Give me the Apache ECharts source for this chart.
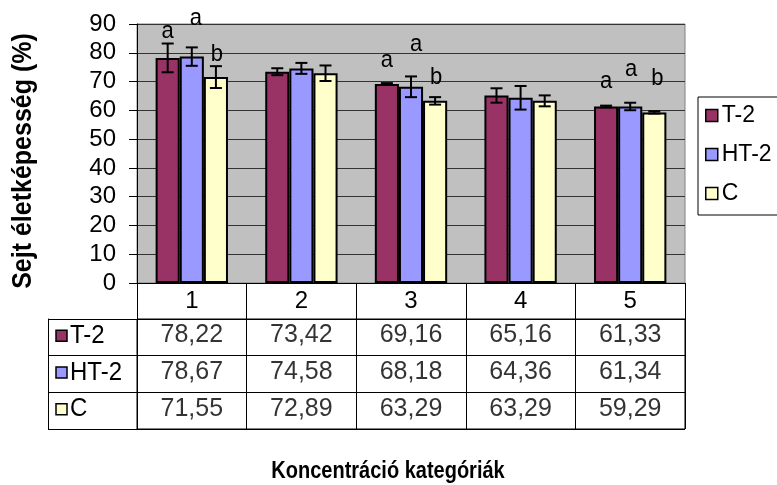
<!DOCTYPE html>
<html>
<head>
<meta charset="utf-8">
<script src="https://cdn.jsdelivr.net/npm/echarts@6/dist/echarts.min.js"></script>
<style>
  html, body { margin: 0; padding: 0; background: #ffffff; }
  #chart { width: 777px; height: 485px; }
</style>
</head>
<body>
<div id="chart"></div>
<script>
// Cell viability per concentration category
const categories = ['1', '2', '3', '4', '5'];
const seriesNames = ['T-2', 'HT-2', 'C'];

const t2Values = [78.22, 73.42, 69.16, 65.16, 61.33];
const ht2Values = [78.67, 74.58, 68.18, 64.36, 61.34];
const cValues = [71.55, 72.89, 63.29, 63.29, 59.29];

// standard deviations shown as error bars
const t2Errors = [5.0, 1.2, 0.3, 2.5, 0.3];
const ht2Errors = [3.2, 1.9, 3.6, 4.1, 1.3];
const cErrors = [3.8, 2.7, 1.3, 1.9, 0.4];

// significance letters above the bars
const t2Letters = ['a', '', 'a', '', 'a'];
const ht2Letters = ['a', '', 'a', '', 'a'];
const cLetters = ['b', '', 'b', '', 'b'];

const yMin = 0, yMax = 90, yStep = 10;

// ---- styling / layout ----
const colors = ['#993366', '#9999FF', '#FFFFCC'];
const FONT = "'Liberation Sans', Arial, sans-serif";
const BAR_WIDTH_RATIO = 0.22;
const ROW_HEADER_WIDTH = 89;
// how far above each bar top the letter sits (px), and a small sideways nudge
const letterRise = [
  [25, 0, 22, 0, 23],
  [36, 0, 41, 0, 35],
  [23, 0, 24, 0, 34]
];
const letterShift = [
  [0, 0, 0, 0, 0],
  [4, 0, 5, 0, 1],
  [1, 0, 1, 0, 3]
];

const valueSets = [t2Values, ht2Values, cValues];
const errorSets = [t2Errors, ht2Errors, cErrors];
const letterSets = [t2Letters, ht2Letters, cLetters];

const fmt = v => v.toFixed(2).replace('.', ',');

const chart = echarts.init(document.getElementById('chart'), null, { renderer: 'canvas' });

const barSeries = seriesNames.map((name, k) => ({
  name: name,
  type: 'bar',
  xAxisIndex: 0,
  yAxisIndex: 0,
  data: valueSets[k],
  barWidth: (BAR_WIDTH_RATIO * 100) + '%',
  barGap: '0%',
  itemStyle: { color: colors[k], borderColor: '#000', borderWidth: 2 },
  emphasis: { disabled: true },
  z: 2
}));

const errorSeries = seriesNames.map((name, k) => ({
  name: name + ' SD',
  type: 'custom',
  xAxisIndex: 0,
  yAxisIndex: 0,
  data: valueSets[k].map((v, i) => [i, v, errorSets[k][i]]),
  encode: { x: 0, y: 1 },
  z: 5,
  silent: true,
  renderItem: function (params, api) {
    const i = api.value(0);
    const v = api.value(1);
    const e = api.value(2);
    const catW = api.size([1, 0])[0];
    const barW = catW * BAR_WIDTH_RATIO;
    const base = api.coord([i, v]);
    const cx = base[0] + (k - 1) * barW;
    const top = api.coord([i, v + e])[1];
    const bot = api.coord([i, v - e])[1];
    const cap = 6;
    const ls = { stroke: '#000', lineWidth: 2 };
    const children = [
      { type: 'line', shape: { x1: cx, y1: top, x2: cx, y2: bot }, style: ls },
      { type: 'line', shape: { x1: cx - cap, y1: top, x2: cx + cap, y2: top }, style: ls },
      { type: 'line', shape: { x1: cx - cap, y1: bot, x2: cx + cap, y2: bot }, style: ls }
    ];
    const letter = letterSets[k][params.dataIndex];
    if (letter) {
      children.push({
        type: 'text',
        x: cx + letterShift[k][params.dataIndex],
        y: base[1] - letterRise[k][params.dataIndex] - (letter === 'a' ? 2 : 0),
        scaleY: 1.12,
        style: {
          text: letter,
          x: 0,
          y: 0,
          align: 'center',
          verticalAlign: 'middle',
          font: '22px ' + FONT,
          fill: '#000'
        }
      });
    }
    return { type: 'group', children: children };
  }
}));

// data table cells below the plot
const tableSeries = {
  name: 'table',
  type: 'scatter',
  xAxisIndex: 1,
  yAxisIndex: 1,
  symbolSize: 1,
  itemStyle: { color: 'rgba(0,0,0,0)' },
  silent: true,
  data: [].concat.apply([], valueSets.map((vals, k) => vals.map((v, i) => [i, k, v]))),
  encode: { x: 0, y: 1 },
  label: {
    show: true,
    position: 'inside',
    offset: [0, -2],
    formatter: p => fmt(p.value[2]),
    fontSize: 25,
    fontFamily: FONT,
    color: '#000'
  }
};

// row headers of the table: colour key square followed by the series name
const rowHeaderSeries = {
  name: 'row headers',
  type: 'custom',
  xAxisIndex: 1,
  yAxisIndex: 1,
  silent: true,
  clip: false,
  data: seriesNames.map((n, k) => [0, k]),
  encode: { x: 0, y: 1 },
  renderItem: function (params, api) {
    const k = api.value(1);
    const p = api.coord([0, k]);
    const catW = api.size([1, 0])[0];
    const left = p[0] - catW / 2 - ROW_HEADER_WIDTH;
    const cy = p[1] - 1.5;
    return {
      type: 'group',
      children: [
        {
          type: 'rect',
          shape: { x: left + 8, y: cy - 5.5, width: 11, height: 11 },
          style: { fill: colors[k], stroke: '#000', lineWidth: 1.5 }
        },
        {
          type: 'text',
          x: left + 22,
          y: cy,
          scaleY: 1.08,
          style: {
            text: seriesNames[k],
            x: 0,
            y: 0,
            align: 'left',
            verticalAlign: 'middle',
            font: '24px ' + FONT,
            fill: '#000'
          }
        }
      ]
    };
  }
};

const option = {
  animation: false,
  backgroundColor: '#ffffff',
  textStyle: { fontFamily: FONT },
  grid: [
    { left: 137, right: 92, top: 24, height: 259, show: true, backgroundColor: '#C0C0C0', borderColor: '#808080', borderWidth: 1 },
    { left: 137, right: 92, top: 319, height: 110, show: true, backgroundColor: '#ffffff', borderColor: '#000', borderWidth: 1 }
  ],
  legend: {
    data: seriesNames,
    orient: 'vertical',
    left: 698,
    top: 97,
    itemWidth: 12,
    itemHeight: 12,
    itemGap: 16,
    padding: [7, 30, 10, 7],
    borderColor: '#000',
    borderWidth: 1,
    icon: 'rect',
    selectedMode: false,
    itemStyle: { borderColor: '#000', borderWidth: 1.5 },
    textStyle: { fontSize: 23, lineHeight: 22, color: '#000', fontFamily: FONT, padding: [0, 0, 0, -1] }
  },
  xAxis: [
    {
      type: 'category',
      gridIndex: 0,
      data: categories,
      axisLine: { show: true, lineStyle: { color: '#000', width: 1 } },
      axisTick: { show: true, interval: 0, length: 36, lineStyle: { color: '#000', width: 1 } },
      axisLabel: { fontSize: 24, color: '#000', margin: 6, fontFamily: FONT },
      splitLine: { show: false }
    },
    {
      type: 'category',
      gridIndex: 1,
      data: categories,
      axisLine: { show: false },
      axisTick: { show: false },
      axisLabel: { show: false },
      splitLine: { show: true, interval: 0, lineStyle: { color: '#000', width: 1 } }
    }
  ],
  yAxis: [
    {
      type: 'value',
      gridIndex: 0,
      min: yMin,
      max: yMax,
      interval: yStep,
      axisLine: { show: true, lineStyle: { color: '#000', width: 1 } },
      axisTick: { show: true, length: 8, lineStyle: { color: '#000', width: 1 } },
      axisLabel: { fontSize: 24, color: '#000', margin: 21, fontFamily: FONT },
      splitLine: { show: true, lineStyle: { color: '#333', width: 1 } }
    },
    {
      type: 'category',
      gridIndex: 1,
      data: seriesNames,
      inverse: true,
      axisLine: { show: true, lineStyle: { color: '#000', width: 1 } },
      axisTick: { show: true, interval: 0, length: ROW_HEADER_WIDTH, lineStyle: { color: '#000', width: 1 } },
      axisLabel: { show: false },
      splitLine: { show: true, interval: 0, lineStyle: { color: '#000', width: 1 } }
    },
    {
      type: 'category',
      gridIndex: 1,
      data: seriesNames,
      inverse: true,
      position: 'left',
      offset: ROW_HEADER_WIDTH,
      axisLine: { show: true, lineStyle: { color: '#000', width: 1 } },
      axisTick: { show: false },
      axisLabel: { show: false },
      splitLine: { show: false }
    }
  ],
  graphic: [
    {
      type: 'text',
      x: 23,
      y: 161,
      rotation: Math.PI / 2,
      scaleY: 1.12,
      style: {
        text: 'Sejt életképesség (%)',
        font: 'bold 25px ' + FONT,
        fill: '#000',
        align: 'center',
        verticalAlign: 'middle'
      }
    },
    {
      type: 'text',
      x: 388,
      y: 472,
      scaleY: 1.15,
      style: {
        text: 'Koncentráció kategóriák',
        font: 'bold 20px ' + FONT,
        fill: '#000',
        align: 'center',
        verticalAlign: 'middle'
      }
    }
  ],
  series: barSeries.concat(errorSeries, [tableSeries, rowHeaderSeries])
};

chart.setOption(option);
</script>
</body>
</html>
